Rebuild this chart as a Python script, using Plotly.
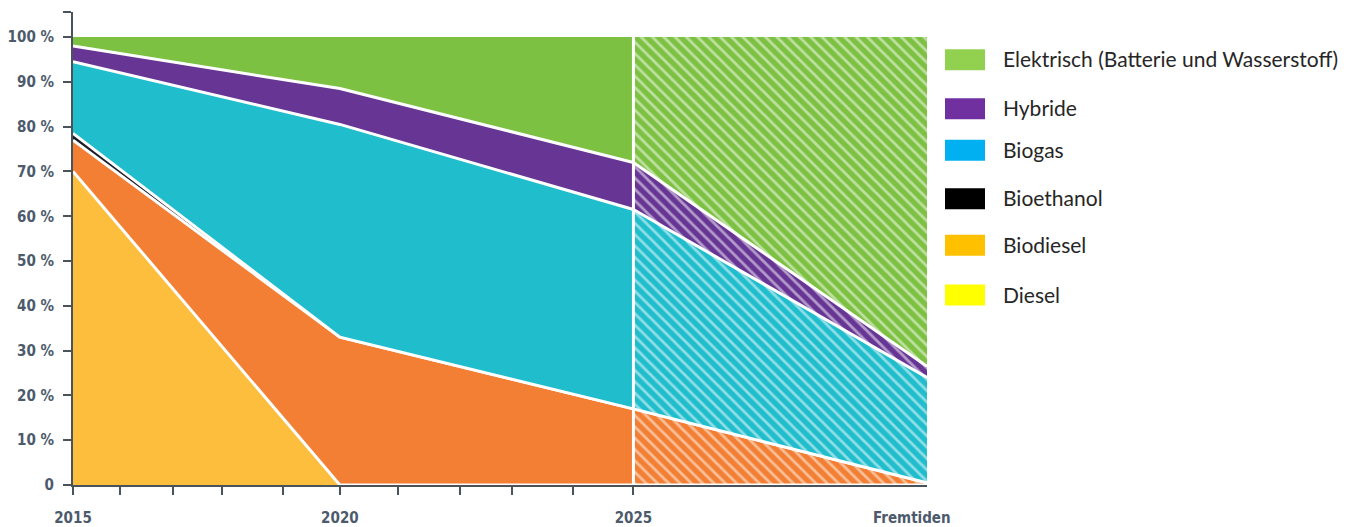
import plotly.graph_objects as go

# Fuel mix shares (percent of total) per period
periods = ["2015", "2020", "2025", "Fremtiden"]
categories = ["Diesel", "Biodiesel", "Bioethanol", "Biogas", "Hybride",
              "Elektrisch (Batterie und Wasserstoff)"]
diesel = [70.0, 0.0, 0.0, 0.0]
biodiesel = [7.0, 33.0, 17.0, 0.5]
bioethanol = [1.5, 0.0, 0.0, 0.0]
biogas = [16.0, 47.5, 44.5, 23.5]
hybride = [3.5, 8.0, 10.5, 2.5]
elektrisch = [2.0, 11.5, 28.0, 73.5]
y_ticks = [0, 10, 20, 30, 40, 50, 60, 70, 80, 90, 100]

series = [diesel, biodiesel, bioethanol, biogas, hybride, elektrisch]
area_colors = ["#FDBE3E", "#F27F33", "#1C1C2A", "#20BDCD", "#673695", "#7DC142"]
legend_colors = ["#FFFF00", "#FFC000", "#000000", "#00B0F0", "#7030A0", "#92D050"]

# horizontal placement of the periods along the axis (not evenly spaced)
x_slot = [0.0, 5.0, 10.5, 16.0]
minor_ticks = [0.0, 0.88, 1.87, 2.79, 3.93, 5.0, 6.09, 7.25, 8.22, 9.36, 10.5]

# plot-area geometry in pixels
L, R, T, B = 73, 927, 12, 485
W, H = 1358, 527

def px(x):
    return (x - L) / (R - L)

def py(y):
    return (B - y) / (B - T)

fig = go.Figure()

n = len(series)
for i, (vals, col) in enumerate(zip(series, area_colors)):
    top = i == n - 1
    line = dict(color="white", width=0 if top else 3, shape="linear")
    # measured part: solid fill
    fig.add_trace(go.Scatter(
        x=x_slot[:3], y=vals[:3], stackgroup="measured", mode="lines",
        line=line, fillcolor=col, showlegend=False, hoverinfo="skip",
        name=categories[i]))
for i, (vals, col) in enumerate(zip(series, area_colors)):
    top = i == n - 1
    line = dict(color="white", width=0 if top else 3, shape="linear")
    # outlook part: hatched fill
    fig.add_trace(go.Scatter(
        x=x_slot[2:], y=vals[2:], stackgroup="outlook", mode="lines",
        line=line, fillcolor=col,
        fillpattern=dict(shape="\\", fgcolor="white", bgcolor=col,
                         size=8, solidity=0.35),
        showlegend=False, hoverinfo="skip", name=categories[i]))

# white divider between measured and outlook parts
fig.add_shape(type="line", xref="x", yref="y", x0=x_slot[2], x1=x_slot[2],
              y0=0, y1=100, line=dict(color="white", width=3), layer="above")

tick_font = dict(family="DejaVu Sans Condensed, DejaVu Sans", size=15,
                 color="#4C5A6C", weight="bold")

# legend drawn as swatches with labels on the right
row_y = [59.7, 108.8, 150.3, 198.8, 245.3, 295.0]
for k, yc in enumerate(row_y):
    idx = n - 1 - k
    fig.add_shape(type="rect", xref="paper", yref="paper",
                  x0=px(945), x1=px(985), y0=py(yc + 10.5), y1=py(yc - 10.5),
                  fillcolor=legend_colors[idx], line=dict(width=0))
    fig.add_annotation(xref="paper", yref="paper", x=px(1001), y=py(yc - 1),
                       xanchor="left", yanchor="middle", showarrow=False,
                       text=categories[idx],
                       font=dict(family="Lato", size=21, color="#262626"))

# label for the open-ended last period
fig.add_annotation(xref="paper", yref="paper", x=px(912), y=py(518),
                   xanchor="center", yanchor="middle", showarrow=False,
                   text=periods[3], font=tick_font)

tick_text = []
for v in minor_ticks:
    label = ""
    for p, s in zip(periods[:3], x_slot[:3]):
        if abs(v - s) < 1e-9:
            label = p
    tick_text.append(label)

fig.update_layout(
    width=W, height=H,
    margin=dict(l=L, r=W - R, t=T, b=H - B),
    paper_bgcolor="white", plot_bgcolor="white",
    xaxis=dict(range=[x_slot[0], x_slot[-1]], tickmode="array",
               tickvals=minor_ticks, ticktext=tick_text, ticks="outside",
               ticklen=8, tickwidth=2, tickcolor="#4A525A",
               showline=True, linecolor="#4A525A", linewidth=2,
               showgrid=False, zeroline=False, tickfont=tick_font,
               ticklabelstandoff=10, automargin=False),
    yaxis=dict(range=[0, 105.6], tickmode="array",
               tickvals=y_ticks + [105.6],
               ticktext=["0"] + [f"{v} %" for v in y_ticks[1:]] + [""],
               ticks="outside", ticklen=8, tickwidth=2, tickcolor="#4A525A",
               showline=True, linecolor="#4A525A", linewidth=2,
               showgrid=False, zeroline=False, tickfont=tick_font,
               ticklabelstandoff=6, automargin=False),
)

fig.write_html("out.html")
